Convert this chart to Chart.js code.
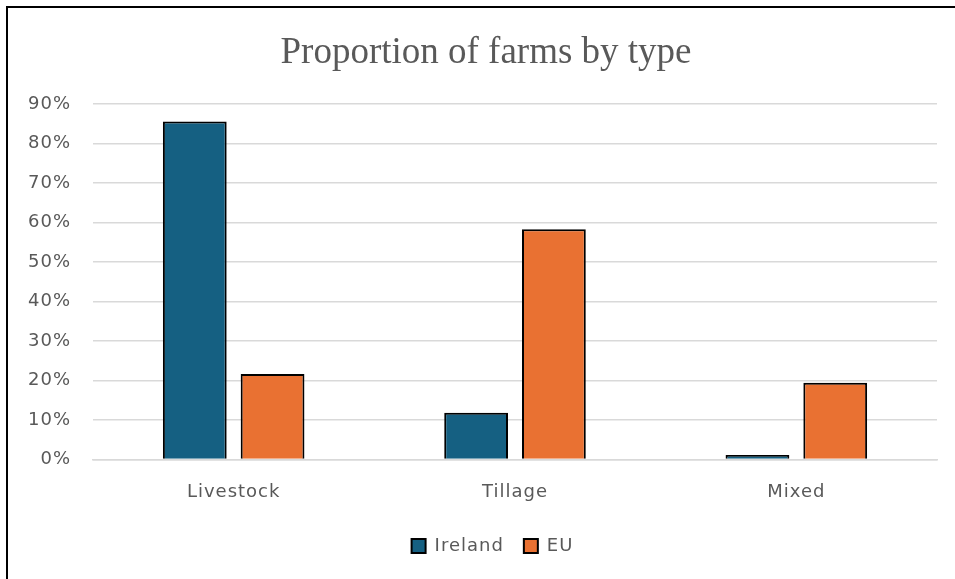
<!DOCTYPE html>
<html>
<head>
<meta charset="utf-8">
<script src="https://cdn.jsdelivr.net/npm/chart.js@4"></script>
<style>
    body { margin: 0; background: #ffffff; }
    #wrap { position: relative; width: 955px; height: 579px; }
    #frame {
        position: absolute; left: 6px; top: 6px; right: 0; bottom: 0;
        border-top: 2px solid #000; border-left: 2px solid #000;
        pointer-events: none;
    }
</style>
</head>
<body>
<div id="wrap">
    <canvas id="grafica" width="955" height="579"></canvas>
    <div id="frame"></div>
</div>
<script>
// categorias y series (porcentaje de explotaciones)
const tipos = ["Livestock", "Tillage", "Mixed"];
const irlanda = [85.6, 11.8, 1.1];
const ue = [21.6, 58.3, 19.4];
const ticksY = [0, 10, 20, 30, 40, 50, 60, 70, 80, 90];
const titulo = "Proportion of farms by type";

const gris = "#595959";
const fuente = "'DejaVu Sans', Arial, sans-serif";

// espacio entre letras para ejes y leyenda; el titulo va aparte sin espaciado
const ajustes = {
    id: "ajustes",
    beforeUpdate: c => { c.ctx.letterSpacing = "1px"; },
    afterLayout: c => {
        // leyenda un poco a la derecha
        c.legend.left += 21;
        c.legend.right += 21;
    },
    beforeDraw: c => { c.ctx.letterSpacing = "1px"; },
    afterDraw: c => {
        const ctx = c.ctx;
        ctx.save();
        ctx.letterSpacing = "0px";
        ctx.font = "37px 'Liberation Serif', 'Times New Roman', serif";
        ctx.fillStyle = gris;
        ctx.textAlign = "center";
        ctx.textBaseline = "alphabetic";
        ctx.fillText(titulo, 486, 63);
        ctx.restore();
    }
};

new Chart(document.getElementById("grafica"), {
    type: "bar",
    data: {
        labels: tipos,
        datasets: [
            {
                label: "Ireland",
                data: irlanda,
                backgroundColor: "#156082",
                borderColor: "#000000",
                borderWidth: 2,
                borderSkipped: "bottom"
            },
            {
                label: "EU",
                data: ue,
                backgroundColor: "#E97132",
                borderColor: "#000000",
                borderWidth: 2,
                borderSkipped: "bottom"
            }
        ]
    },
    plugins: [ajustes],
    options: {
        responsive: false,
        animation: false,
        categoryPercentage: 0.553,
        barPercentage: 0.82,
        layout: { padding: { left: 6, right: 18, top: 0, bottom: 14 } },
        plugins: {
            // reserva el sitio del titulo; el texto se pinta en afterDraw
            title: {
                display: true,
                text: titulo,
                color: "rgba(0,0,0,0)",
                font: { family: "'Liberation Serif', 'Times New Roman', serif", size: 35, weight: "normal" },
                padding: { top: 31, bottom: 31 }
            },
            legend: {
                position: "bottom",
                labels: {
                    color: gris,
                    font: { family: fuente, size: 18 },
                    boxWidth: 14,
                    boxHeight: 14,
                    padding: 20
                }
            },
            tooltip: { enabled: false }
        },
        scales: {
            x: {
                grid: { display: false },
                border: { color: "#D9D9D9", width: 1.5 },
                ticks: { color: gris, font: { family: fuente, size: 18 }, padding: 14 }
            },
            y: {
                min: 0,
                max: 90,
                afterBuildTicks: eje => { eje.ticks = ticksY.map(v => ({ value: v })); },
                grid: { color: "#D9D9D9", lineWidth: 1.5, drawTicks: false },
                border: { display: false },
                ticks: {
                    color: gris,
                    font: { family: fuente, size: 18 },
                    padding: 22,
                    callback: v => v + "%"
                }
            }
        }
    }
});
</script>
</body>
</html>
